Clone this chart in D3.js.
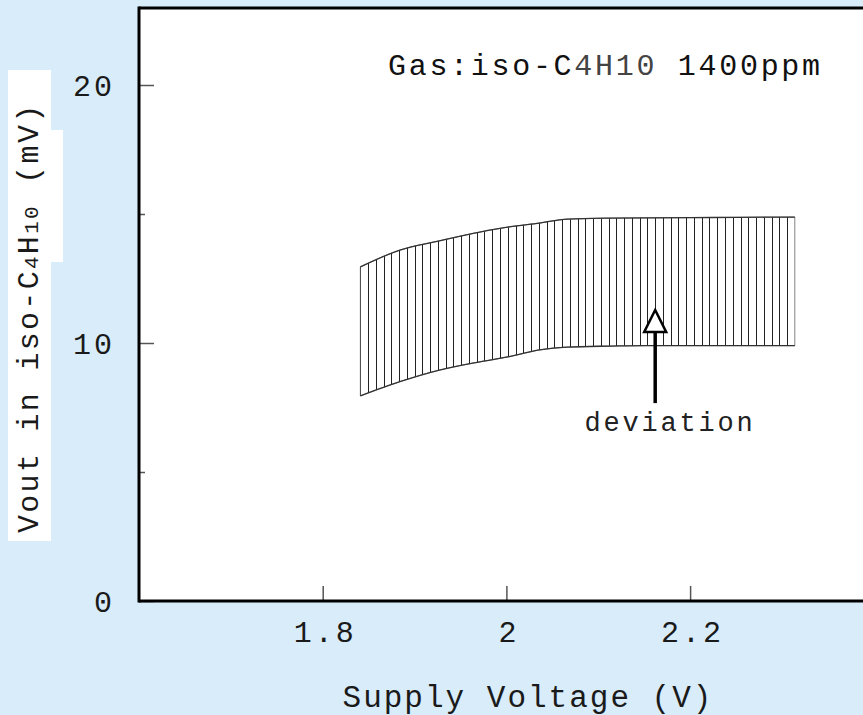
<!DOCTYPE html>
<html><head><meta charset="utf-8">
<script src="https://cdn.jsdelivr.net/npm/d3@7"></script>
<style>html,body{margin:0;padding:0;background:#d8ecfa;}svg{display:block;}</style>
</head><body><svg id="c" width="863" height="715"></svg>
<script>
// ---- data ----
const voltage = [1.841, 1.884, 1.927, 1.971, 2.003, 2.036, 2.066, 2.114, 2.153, 2.20, 2.25, 2.314];
const upper   = [12.95, 13.6, 13.96, 14.3, 14.5, 14.65, 14.8, 14.84, 14.85, 14.86, 14.87, 14.88];
const lower   = [7.95, 8.5, 8.95, 9.27, 9.47, 9.73, 9.84, 9.88, 9.9, 9.9, 9.9, 9.9];
const xTicks = [1.8, 2.0, 2.2];
const xTickLabels = ["1.8", "2", "2.2"];
const yMajorTicks = [0, 10, 20];
const yMinorTicks = [5, 15];
const arrowX = [2.162];
const arrowY = [7.67, 10.43, 11.28]; // bottom of shaft, triangle base, tip
const titleParts = [["Gas:iso-C", "#111"], ["4H10", "#444"], [" 1400ppm", "#111"]];
const deviationLabel = "deviation";
const xTitle = "Supply Voltage (V)";
const yTitleParts = [["Vout in iso-C", 30], ["4", 21], ["H", 30], ["10", 21], [" (mV)", 30]];

// ---- layout ----
const W = 863, H = 715;
const mLeft = 139, mTop = 8, mBottom = 601;
const FONT = "'Liberation Mono', 'Courier New', monospace";

const svg = d3.select("#c");
svg.append("rect").attr("width", W).attr("height", H).attr("fill", "#d8ecfa");

const x = d3.scaleLinear().domain([1.6, 2.2]).range([mLeft, mLeft + 3 * 183.7]);
const y = d3.scaleLinear().domain([0, 20]).range([mBottom, 85]);

// plot area
svg.append("rect").attr("x", mLeft).attr("y", mTop).attr("width", W - mLeft + 10).attr("height", mBottom - mTop).attr("fill", "#fff");

// y-title white boxes
svg.append("rect").attr("x", 8).attr("y", 70).attr("width", 43).attr("height", 471).attr("fill", "#fff");
svg.append("rect").attr("x", 50).attr("y", 130).attr("width", 13).attr("height", 132).attr("fill", "#fff");

// axes (ticks inside)
const yMaj = svg.append("g").attr("transform", `translate(${mLeft},0)`)
  .call(d3.axisLeft(y).tickValues(yMajorTicks).tickSize(-15).tickPadding(24).tickFormat(d3.format("d")));
const yMin = svg.append("g").attr("transform", `translate(${mLeft},0)`)
  .call(d3.axisLeft(y).tickValues(yMinorTicks).tickSize(-6).tickFormat(""));
const xAx = svg.append("g").attr("transform", `translate(0,${mBottom})`)
  .call(d3.axisBottom(x).tickValues(xTicks).tickSize(-15).tickPadding(20).tickFormat((d, i) => xTickLabels[i]));
[yMaj, yMin, xAx].forEach(g => {
  g.select(".domain").remove();
  g.selectAll(".tick line").attr("stroke", "#555").attr("stroke-width", 1.5);
  g.selectAll("text").attr("font-family", FONT).attr("font-size", 30).attr("fill", "#1a1a1a")
    .attr("letter-spacing", 3);
});
yMaj.selectAll("text").attr("dy", "0.35em");
xAx.selectAll("text").attr("dy", "0.71em").attr("dx", 2);

// borders
svg.append("line").attr("x1", mLeft).attr("x2", mLeft).attr("y1", mTop - 1.5).attr("y2", mBottom + 1.5).attr("stroke", "#000").attr("stroke-width", 3);
svg.append("line").attr("x1", mLeft).attr("x2", W + 5).attr("y1", mTop).attr("y2", mTop).attr("stroke", "#000").attr("stroke-width", 3);
svg.append("line").attr("x1", mLeft).attr("x2", W + 5).attr("y1", mBottom).attr("y2", mBottom).attr("stroke", "#000").attr("stroke-width", 3);

// band
const pts = voltage.map((v, i) => ({v, u: upper[i], l: lower[i]}));
const area = d3.area().x(d => x(d.v)).y0(d => y(d.l)).y1(d => y(d.u)).curve(d3.curveMonotoneX);
svg.append("clipPath").attr("id", "bandClip").append("path").attr("d", area(pts));
const x0 = x(voltage[0]), x1 = x(voltage[voltage.length - 1]);
const nLines = Math.round((x1 - x0) / 7.75);
const hatch = svg.append("g").attr("clip-path", "url(#bandClip)");
hatch.selectAll("line").data(d3.range(nLines + 1)).join("line")
  .attr("x1", i => Math.round(x0 + (x1 - x0) * i / nLines) + 0.5)
  .attr("x2", i => Math.round(x0 + (x1 - x0) * i / nLines) + 0.5)
  .attr("y1", y(d3.max(upper)) - 5).attr("y2", y(d3.min(lower)) + 5)
  .attr("stroke", "#222").attr("stroke-width", 1);
const lineU = d3.line().x(d => x(d.v)).y(d => y(d.u)).curve(d3.curveMonotoneX);
const lineL = d3.line().x(d => x(d.v)).y(d => y(d.l)).curve(d3.curveMonotoneX);
svg.append("path").attr("d", lineU(pts)).attr("fill", "none").attr("stroke", "#333").attr("stroke-width", 1.3);
svg.append("path").attr("d", lineL(pts)).attr("fill", "none").attr("stroke", "#333").attr("stroke-width", 1.3);
svg.append("path").attr("d", area(pts)).attr("fill", "none").attr("stroke", "#333").attr("stroke-width", 1).attr("stroke-opacity", 0.6);

// arrow
const ax = x(arrowX[0]);
svg.append("line").attr("x1", ax).attr("x2", ax).attr("y1", y(arrowY[0])).attr("y2", y(arrowY[1]))
  .attr("stroke", "#000").attr("stroke-width", 3.5);
svg.append("path")
  .attr("d", `M${ax},${y(arrowY[2])}L${ax + 11},${y(arrowY[1])}L${ax - 11},${y(arrowY[1])}Z`)
  .attr("fill", "#fff").attr("stroke", "#000").attr("stroke-width", 2.5).attr("stroke-linejoin", "miter");

// deviation label
svg.append("text").attr("x", 670).attr("y", 431).attr("text-anchor", "middle")
  .attr("font-family", FONT).attr("font-size", 27).attr("letter-spacing", 2.8).attr("fill", "#222")
  .text(deviationLabel);

// title
const t = svg.append("text").attr("x", 388).attr("y", 75).attr("font-family", FONT)
  .attr("font-size", 30).attr("letter-spacing", 2.7);
titleParts.forEach(([s, c]) => t.append("tspan").attr("fill", c).text(s));

// x title
svg.append("text").attr("x", 528).attr("y", 707).attr("text-anchor", "middle")
  .attr("font-family", FONT).attr("font-size", 31).attr("letter-spacing", 2).attr("fill", "#1a1a1a")
  .text(xTitle);

// y title
const yt = svg.append("text").attr("transform", "translate(38,533) rotate(-90)")
  .attr("font-family", FONT).attr("letter-spacing", 2.3).attr("fill", "#1a1a1a");
yTitleParts.forEach(([s, fs]) => yt.append("tspan").attr("font-size", fs).text(s));
</script></body></html>
